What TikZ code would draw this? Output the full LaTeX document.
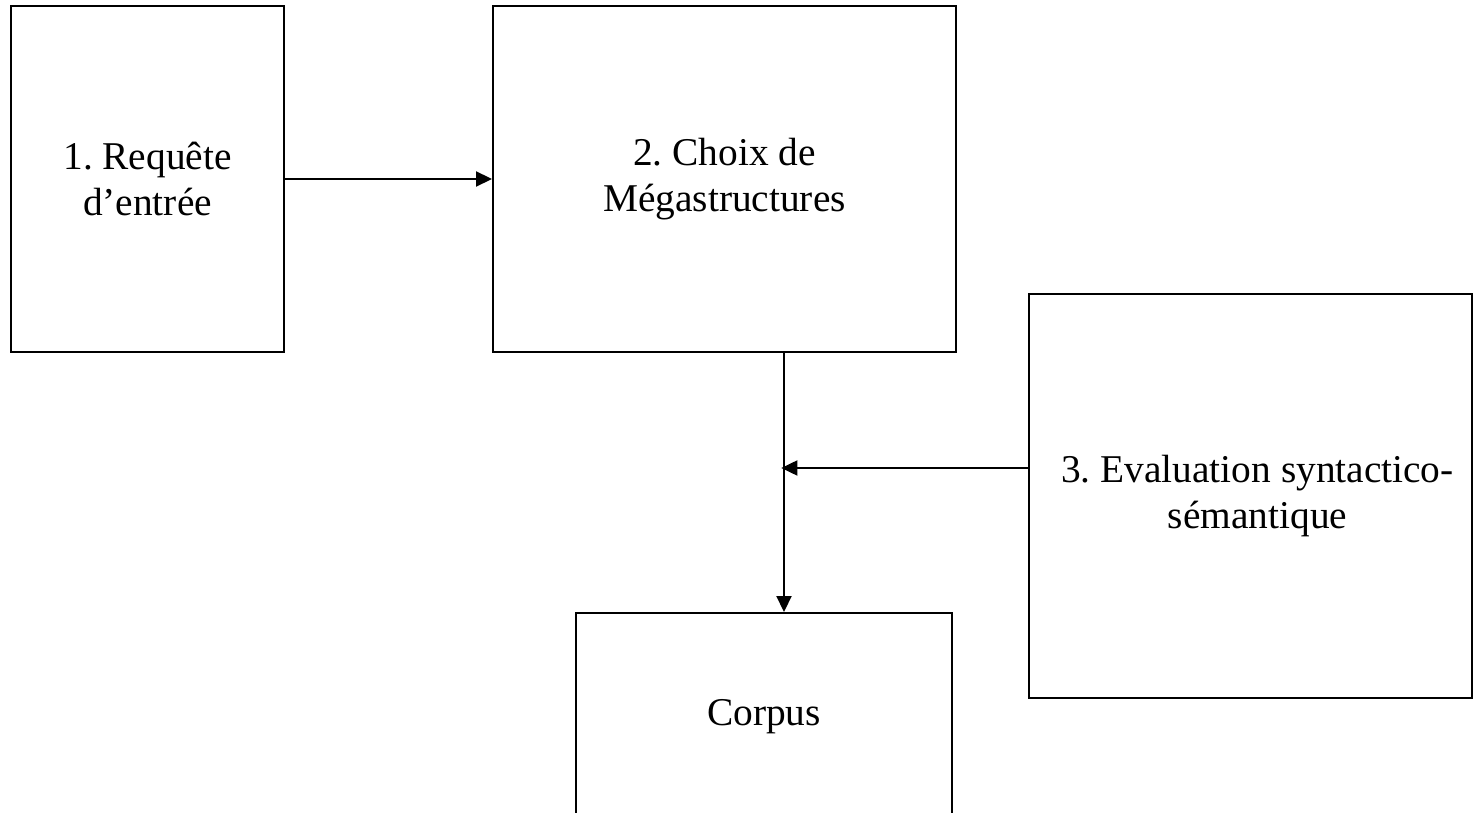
\documentclass[tikz,border=0pt]{standalone}
\usepackage{fontspec}
\setmainfont{Liberation Serif}
\usetikzlibrary{arrows.meta}
\frenchspacing
\begin{document}
\begin{tikzpicture}[>={Triangle[length=0.32cm,width=0.3cm]}, line width=1.1pt,
    caja/.style={draw, align=center, inner sep=0pt, font=\fontsize{22.4}{26.2}\selectfont}]
                % Marco del dibujo
                \useasboundingbox (0,0) rectangle (29.46,-16.26);

                % Cajas de las etapas
                \node[caja, minimum width=5.46cm, minimum height=6.92cm] (requete) at (2.95,-3.58) {1. Requête\\d’entrée};
                \node[caja, minimum width=9.26cm, minimum height=6.92cm] (choix) at (14.49,-3.58) {2. Choix de\\Mégastructures};
                \node[caja, minimum width=8.86cm, minimum height=8.08cm] (evaluation) at (25.01,-9.92) {\hspace{0.28cm}3. Evaluation syntactico-\\\hspace{0.28cm}sémantique};
                \node[caja, minimum width=7.52cm, minimum height=4.16cm] (corpus) at (15.28,-14.34) {Corpus};

                % Eje vertical entre la etapa 2 y el corpus
                \coordinate (eje) at (15.68,-9.36);

                % Conectores
                \draw[->] (requete.east) -- (choix.west);
                \draw[->] (eje |- choix.south) -- (eje |- corpus.north);
                \draw[->, shorten >=-1.5pt] (eje -| evaluation.west) -- (eje);

            \end{tikzpicture}
\end{document}
